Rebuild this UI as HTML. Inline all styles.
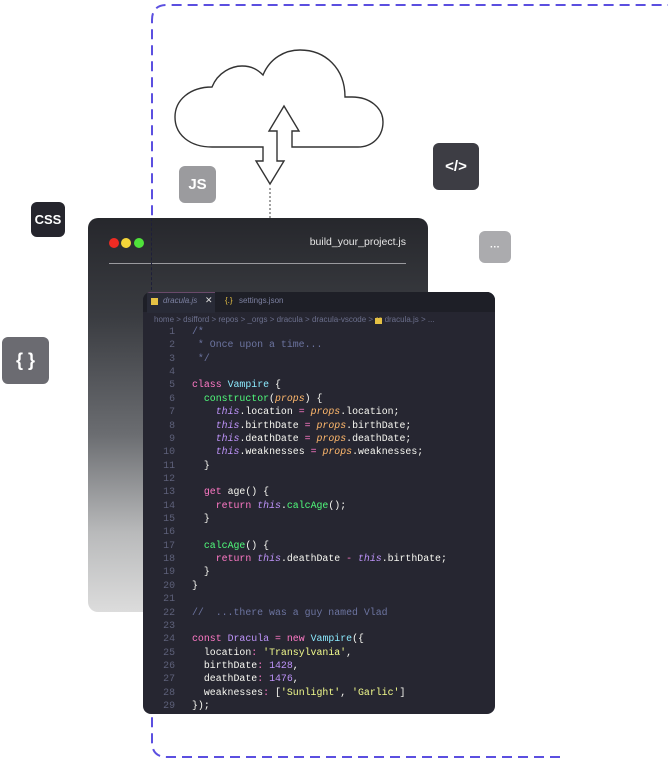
<!DOCTYPE html>
<html><head><meta charset="utf-8"><style>
html,body{margin:0;padding:0;background:#fff;width:668px;height:765px;overflow:hidden;position:relative;font-family:"Liberation Sans",sans-serif}
.abs{position:absolute}
.box{position:absolute;border-radius:6px;color:#fff;font-weight:bold;display:flex;align-items:center;justify-content:center}
.win{left:88px;top:218px;width:340px;height:394px;border-radius:10px;background:linear-gradient(180deg,#26272c 0%,#3a3c41 25%,#6b6d71 55%,#b9babb 80%,#dcdcdc 100%)}
.panel{left:143px;top:292px;width:352px;height:422px;border-radius:8px;background:#262631;overflow:hidden}
.code{position:absolute;left:0;top:33px;font-family:"Liberation Mono",monospace;font-size:9.9px;line-height:13.36px;white-space:pre;color:#f8f8f2}
.ln{display:inline-block;width:32px;text-align:right;color:#5d6079;margin-right:17px}
.c{color:#6c74a0}.k{color:#ff79c6}.n{color:#8be9fd}.f{color:#50fa7b}.t{color:#bd93f9;font-style:italic}.p{color:#ffb86c;font-style:italic}.s{color:#f1fa8c}.m{color:#bd93f9}
</style></head><body>
<svg class="abs" style="left:0;top:0" width="668" height="765">
<path d="M560,757 H167 Q152,757 152,742 V20 Q152,5 167,5 H668" fill="none" stroke="#5b4fe0" stroke-width="2" stroke-dasharray="10 6"/>
<path d="M263,147 H212 C190,147 175,135 175,117 C175,100 190,87 212,87 C218,72 232,66 242,66 C252,66 258,70 263,75 C270,58 285,50 300,50 C325,50 345,68 345,97 H352 C370,97 383,108 383,122 C383,137 372,147 358,147 H292 V131 H299 L284,106 L269,131 H277 V161 H284 L270,184 L256,161 H263 Z" fill="#fff" stroke="#333" stroke-width="1.4" stroke-linejoin="miter"/>
<line x1="270" y1="188" x2="270" y2="218" stroke="#444" stroke-width="1" stroke-dasharray="2 2"/>
</svg>
<div class="box" style="left:31px;top:202px;width:34px;height:35px;background:#25252d;font-size:13px">CSS</div>
<div class="box" style="left:179px;top:166px;width:37px;height:37px;background:#9b9b9e;font-size:15px">JS</div>
<div class="box" style="left:433px;top:143px;width:46px;height:47px;background:#3d3d44;font-size:15px">&lt;/&gt;</div>
<div class="box" style="left:479px;top:231px;width:32px;height:32px;background:#ababae;font-size:10px">···</div>
<div class="box" style="left:2px;top:337px;width:47px;height:47px;background:#6b6b71;font-size:18px">{ }</div>
<div class="abs win">
 <div class="abs" style="left:21px;top:20px;width:10px;height:10px;border-radius:50%;background:#ee2b23"></div>
 <div class="abs" style="left:33px;top:20px;width:10px;height:10px;border-radius:50%;background:#f4d539"></div>
 <div class="abs" style="left:46px;top:20px;width:10px;height:10px;border-radius:50%;background:#4fe23a"></div>
 <div class="abs" style="right:22px;top:18px;color:#e6e6e6;font-size:10.5px">build_your_project.js</div>
 <div class="abs" style="left:21px;top:45px;width:297px;height:1px;background:#9a9a9e"></div>
 <div class="abs" style="left:63px;top:0;width:0;height:72px;border-left:1px dashed #1e1f3a"></div>
</div>
<div class="abs panel">
 <div class="abs" style="left:0;top:0;width:352px;height:20px;background:#1e1f27"></div>
 <div class="abs" style="left:4px;top:0;width:68px;height:20px;background:#282a36;border-top:1px solid #6a4a6a"></div>
 <div class="abs" style="left:8px;top:6px;width:7px;height:7px;background:#e5c144"></div>
 <div class="abs" style="left:20px;top:4px;font-size:8px;color:#7c80a0;font-style:italic">dracula.js</div>
 <div class="abs" style="left:62px;top:3px;font-size:9px;color:#ddd">✕</div>
 <div class="abs" style="left:82px;top:4px;font-size:8px;color:#e5c144">{.}</div>
 <div class="abs" style="left:96px;top:4px;font-size:8px;color:#7c80a0">settings.json</div>
 <div class="abs" style="left:11px;top:23px;font-size:8px;color:#6b6f8c;white-space:nowrap">home &gt; dsifford &gt; repos &gt; _orgs &gt; dracula &gt; dracula-vscode &gt; <span style="background:#e5c144;color:#e5c144;font-size:6px">JS</span> dracula.js &gt; ...</div>
 <div class="code"><span class="ln">1</span><span class="c">/*</span>
<span class="ln">2</span><span class="c"> * Once upon a time...</span>
<span class="ln">3</span><span class="c"> */</span>
<span class="ln">4</span>
<span class="ln">5</span><span class="k">class</span> <span class="n">Vampire</span> {
<span class="ln">6</span>  <span class="f">constructor</span>(<span class="p">props</span>) {
<span class="ln">7</span>    <span class="t">this</span>.location <span class="k">=</span> <span class="p">props</span>.location;
<span class="ln">8</span>    <span class="t">this</span>.birthDate <span class="k">=</span> <span class="p">props</span>.birthDate;
<span class="ln">9</span>    <span class="t">this</span>.deathDate <span class="k">=</span> <span class="p">props</span>.deathDate;
<span class="ln">10</span>    <span class="t">this</span>.weaknesses <span class="k">=</span> <span class="p">props</span>.weaknesses;
<span class="ln">11</span>  }
<span class="ln">12</span>
<span class="ln">13</span>  <span class="k">get</span> age() {
<span class="ln">14</span>    <span class="k">return</span> <span class="t">this</span>.<span class="f">calcAge</span>();
<span class="ln">15</span>  }
<span class="ln">16</span>
<span class="ln">17</span>  <span class="f">calcAge</span>() {
<span class="ln">18</span>    <span class="k">return</span> <span class="t">this</span>.deathDate <span class="k">-</span> <span class="t">this</span>.birthDate;
<span class="ln">19</span>  }
<span class="ln">20</span>}
<span class="ln">21</span>
<span class="ln">22</span><span class="c">//  ...there was a guy named Vlad</span>
<span class="ln">23</span>
<span class="ln">24</span><span class="k">const</span> <span class="t" style="font-style:normal">Dracula</span> <span class="k">=</span> <span class="k">new</span> <span class="n">Vampire</span>({
<span class="ln">25</span>  location<span class="k">:</span> <span class="s">'Transylvania'</span>,
<span class="ln">26</span>  birthDate<span class="k">:</span> <span class="m">1428</span>,
<span class="ln">27</span>  deathDate<span class="k">:</span> <span class="m">1476</span>,
<span class="ln">28</span>  weaknesses<span class="k">:</span> [<span class="s">'Sunlight'</span>, <span class="s">'Garlic'</span>]
<span class="ln">29</span>});</div>
</div>
</body></html>
